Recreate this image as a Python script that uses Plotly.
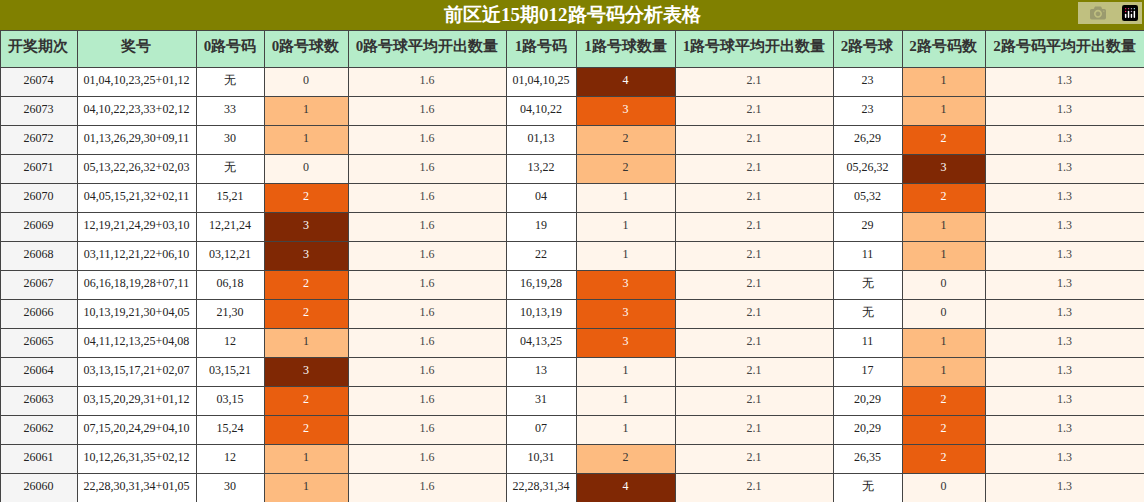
import plotly.graph_objects as go

title = "前区近15期012路号码分析表格"
headers = ["开奖期次","奖号","0路号码","0路号球数","0路号球平均开出数量","1路号码","1路号球数量","1路号球平均开出数量","2路号球","2路号码数","2路号码平均开出数量"]
issues = [str(x) for x in range(26074, 26059, -1)]
awards = ["01,04,10,23,25+01,12","04,10,22,23,33+02,12","01,13,26,29,30+09,11","05,13,22,26,32+02,03",
          "04,05,15,21,32+02,11","12,19,21,24,29+03,10","03,11,12,21,22+06,10","06,16,18,19,28+07,11",
          "10,13,19,21,30+04,05","04,11,12,13,25+04,08","03,13,15,17,21+02,07","03,15,20,29,31+01,12",
          "07,15,20,24,29+04,10","10,12,26,31,35+02,12","22,28,30,31,34+01,05"]
r0 = ["无","33","30","无","15,21","12,21,24","03,12,21","06,18","21,30","12","03,15,21","03,15","15,24","12","30"]
c0 = [0,1,1,0,2,3,3,2,2,1,3,2,2,1,1]
avg0 = 1.6
r1 = ["01,04,10,25","04,10,22","01,13","13,22","04","19","22","16,19,28","10,13,19","04,13,25","13","31","07","10,31","22,28,31,34"]
c1 = [4,3,2,2,1,1,1,3,3,3,1,1,1,2,4]
avg1 = 2.1
r2 = ["23","23","26,29","05,26,32","05,32","29","11","无","无","11","17","20,29","20,29","26,35","无"]
c2 = [1,1,2,3,2,1,1,0,0,1,1,2,2,2,0]
avg2 = 1.3

widths = [77,119,68,84,158,70,99,158,69,83,159]
n = len(issues)
cream = "#fff5eb"
levels_fill = [cream, "#fdbb80", "#e95e0f", "#802804"]
levels_font = ["#333", "#333", "#ffffff", "#ffffff"]

def lvl(c):
    m = max(c)
    return [max(0, min(3, v - (m - 3))) for v in c]
def cf(c): return [levels_fill[l] for l in lvl(c)]
def ff(c): return [levels_font[l] for l in lvl(c)]

values = [issues, awards, r0, c0, [avg0]*n, r1, c1, [avg1]*n, r2, c2, [avg2]*n]
white = ["#ffffff"]*n
fills = [["#f5f5f5"]*n, white, white, cf(c0), [cream]*n, white, cf(c1), [cream]*n, white, cf(c2), [cream]*n]
black = ["#222"]*n
fonts = [black, black, black, ff(c0), ["#444"]*n, black, ff(c1), ["#444"]*n, black, ff(c2), ["#444"]*n]

fig = go.Figure(go.Table(
    columnwidth=widths,
    domain=dict(x=[0, 1], y=[0, 1 - 30/502]),
    header=dict(values=[f"<b>{h}</b>" for h in headers], fill_color="#b5ecc9",
                line_color="#444", height=37, align="center",
                font=dict(family="Liberation Serif", size=15, color="#333")),
    cells=dict(values=values, fill_color=fills, line_color="#444", height=29, align="center",
               font=dict(family="Liberation Serif", size=12, color=fonts)),
))
fig.add_shape(type="rect", xref="paper", yref="paper", x0=0, x1=1, y0=1 - 30/502, y1=1,
              fillcolor="#808000", line_width=0, layer="below")
fig.add_annotation(text=f"<b>{title}</b>", xref="paper", yref="paper", x=0.5, y=1 - 15/502,
                   xanchor="center", yanchor="middle",
                   showarrow=False, font=dict(family="Liberation Serif", size=19, color="white"))
fig.update_layout(width=1144, height=502, margin=dict(l=0, r=0, t=0, b=0), paper_bgcolor="white")
fig.write_html("out.html", post_script="document.body.style.margin='0';document.body.style.overflow='hidden';")
